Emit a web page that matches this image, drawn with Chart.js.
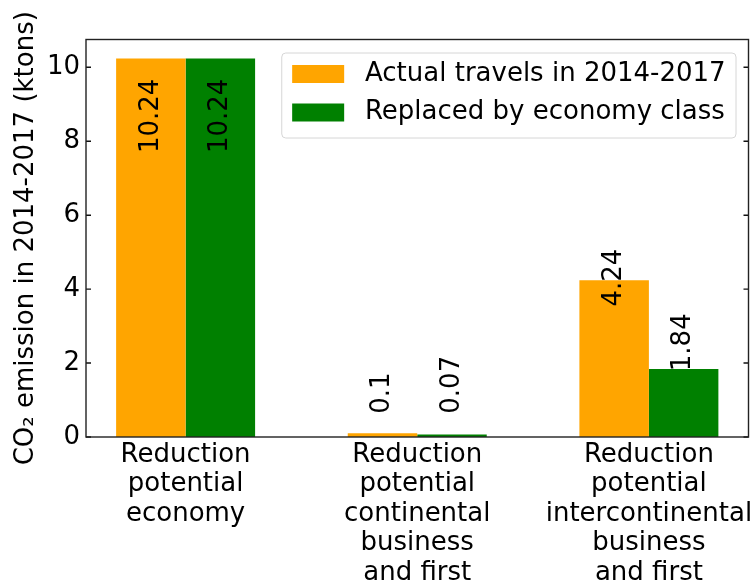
<!DOCTYPE html>
<html>
<head>
<meta charset="utf-8">
<script src="https://cdn.jsdelivr.net/npm/chart.js@4/dist/chart.umd.min.js"></script>
<style>
  html, body { margin: 0; padding: 0; background: #ffffff; }
  #wrap { width: 754px; height: 583px; }
</style>
</head>
<body>
<div id="wrap"><canvas id="c" width="754" height="583"></canvas></div>
<script>
// Category labels (one entry per line of the tick label)
const categories = [
  ['Reduction', 'potential', 'economy'],
  ['Reduction', 'potential', 'continental', 'business', 'and first'],
  ['Reduction', 'potential', 'intercontinental', 'business', 'and first']
];
// CO2 emission in ktons
const actualTravels = [10.24, 0.1, 4.24];
const economyClass = [10.24, 0.07, 1.84];
const seriesNames = ['Actual travels in 2014-2017', 'Replaced by economy class'];
const seriesColors = ['#FFA500', '#008000'];
const yTicks = [0, 2, 4, 6, 8, 10];
const yTitle = 'CO\u2082 emission in 2014-2017 (ktons)';

const FONT = 'DejaVu Sans';
const FS = 26;
Chart.defaults.font.family = FONT;
Chart.defaults.font.size = FS;
Chart.defaults.color = '#000';

const toPoints = arr => arr.map((v, i) => ({ x: i, y: v }));
const yMax = Math.max(...actualTravels, ...economyClass) * 1.05;

// Where each rotated value label starts (data units along y), per series
const labelStart = [
  [7.68, 0.63, 3.53],
  [7.68, 0.63, 1.78]
];

const decorPlugin = {
  id: 'decor',
  afterDatasetsDraw(chart) {
    const ctx = chart.ctx;
    const ys = chart.scales.y;
    ctx.save();
    ctx.font = FS + 'px "' + FONT + '"';
    ctx.fillStyle = '#000';
    ctx.textAlign = 'left';
    ctx.textBaseline = 'middle';
    chart.data.datasets.forEach((ds, d) => {
      const meta = chart.getDatasetMeta(d);
      meta.data.forEach((bar, i) => {
        const txt = String(ds.data[i].y);
        const py = ys.getPixelForValue(labelStart[d][i]);
        ctx.save();
        ctx.translate(bar.x, py);
        ctx.rotate(-Math.PI / 2);
        ctx.fillText(txt, 0, 0);
        ctx.restore();
      });
    });
    ctx.restore();
  },
  afterDraw(chart) {
    const ctx = chart.ctx;
    const a = chart.chartArea;
    const ys = chart.scales.y;
    ctx.save();
    // inward ticks on left and right spines
    ctx.strokeStyle = '#111';
    ctx.lineWidth = 1.4;
    yTicks.forEach(t => {
      const py = ys.getPixelForValue(t);
      ctx.beginPath();
      ctx.moveTo(a.left, py); ctx.lineTo(a.left + 5, py);
      ctx.moveTo(a.right, py); ctx.lineTo(a.right - 5, py);
      ctx.stroke();
    });
    // frame
    ctx.strokeStyle = '#222';
    ctx.lineWidth = 1.4;
    ctx.strokeRect(a.left, a.top, a.right - a.left, a.bottom - a.top);

    // y-axis title
    ctx.font = FS + 'px "' + FONT + '"';
    ctx.fillStyle = '#000';
    ctx.textAlign = 'center';
    ctx.textBaseline = 'alphabetic';
    ctx.save();
    ctx.translate(33, (a.top + a.bottom) / 2);
    ctx.rotate(-Math.PI / 2);
    ctx.fillText(yTitle, 0, 0);
    ctx.restore();

    // legend
    const pad = 0.4 * FS, handle = 2 * FS, gap = 0.8 * FS;
    const widths = seriesNames.map(s => ctx.measureText(s).width);
    const bw = pad + handle + gap + Math.max(...widths) + pad;
    const bh = 85;
    const bx = a.right - 12.5 - bw;
    const by = a.top + 13.5;
    ctx.beginPath();
    ctx.roundRect(bx, by, bw, bh, 4);
    ctx.fillStyle = 'rgba(255,255,255,0.8)';
    ctx.fill();
    ctx.strokeStyle = '#d6d6d6';
    ctx.lineWidth = 1;
    ctx.stroke();
    const rows = [by + 21, by + 59.5];
    seriesNames.forEach((s, k) => {
      ctx.fillStyle = seriesColors[k];
      ctx.fillRect(bx + pad, rows[k] - 9, handle, 18);
      ctx.fillStyle = '#000';
      ctx.textAlign = 'left';
      ctx.textBaseline = 'middle';
      ctx.fillText(s, bx + pad + handle + gap, rows[k]);
    });
    ctx.restore();
  }
};

new Chart(document.getElementById('c'), {
  type: 'bar',
  data: {
    datasets: [
      { label: seriesNames[0], data: toPoints(actualTravels), backgroundColor: seriesColors[0] },
      { label: seriesNames[1], data: toPoints(economyClass), backgroundColor: seriesColors[1] }
    ]
  },
  options: {
    responsive: false,
    animation: false,
    devicePixelRatio: 1,
    categoryPercentage: 0.6,
    barPercentage: 1.0,
    layout: { padding: { left: 0, right: 5.5, top: 39.5, bottom: 0 } },
    plugins: { legend: { display: false }, tooltip: { enabled: false } },
    scales: {
      x: {
        type: 'linear',
        offset: false,
        min: -0.43,
        max: 2.43,
        grid: { display: false, drawTicks: false, offset: false },
        border: { display: false },
        ticks: {
          autoSkip: false,
          maxRotation: 0,
          minRotation: 0,
          padding: 3,
          font: { size: FS, lineHeight: 1.14 },
          callback: v => categories[v]
        },
        afterBuildTicks: s => { s.ticks = categories.map((_, i) => ({ value: i })); },
        afterFit: s => { s.height = 146; s.paddingLeft = 0; s.paddingRight = 0; }
      },
      y: {
        min: 0,
        max: yMax,
        grid: { display: false, drawTicks: false },
        border: { display: false },
        ticks: { padding: 6, font: { size: FS } },
        afterBuildTicks: s => { s.ticks = yTicks.map(v => ({ value: v })); },
        afterFit: s => { s.width = 86; s.paddingTop = 0; s.paddingBottom = 0; }
      }
    }
  },
  plugins: [decorPlugin]
});
</script>
</body>
</html>
